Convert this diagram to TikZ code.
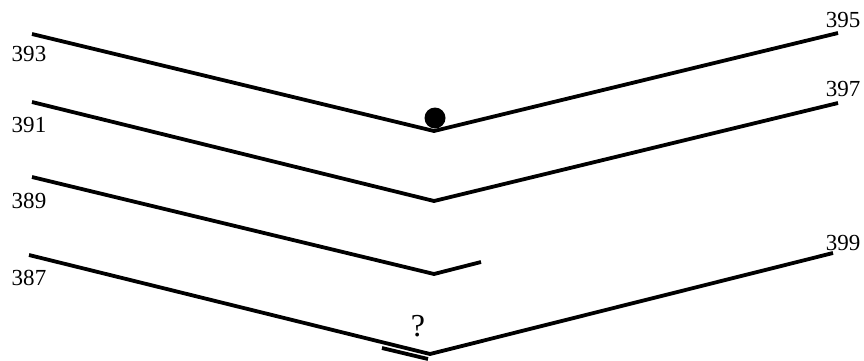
\documentclass[tikz,border=0pt]{standalone}
\usepackage{fontspec}
\setmainfont{Liberation Serif}
\tikzset{
  strand/.style={line width=3.8pt, line cap=butt, line join=miter},
  num/.style={inner sep=0pt, font=\fontsize{23}{25}\selectfont},
  query/.style={inner sep=0pt, font=\fontsize{32}{34}\selectfont},
}

\begin{document}
\begin{tikzpicture}[x=1pt, y=-1pt]
  \useasboundingbox (0,0) rectangle (864,360);
  % end points and bends
  \coordinate (a393) at (32,34);
  \coordinate (b393) at (434,131);
  \coordinate (a395) at (838,33);
  \coordinate (a391) at (32,102);
  \coordinate (b391) at (434,201);
  \coordinate (a397) at (838,103);
  \coordinate (a389) at (32,177);
  \coordinate (b389) at (434,274);
  \coordinate (c389) at (481,262);
  \coordinate (a387) at (29,255);
  \coordinate (b387) at (430,354);
  \coordinate (a399) at (833,253);
  \coordinate (s1) at (382,348);
  \coordinate (s2) at (428,359);

  \draw[strand] (a393) -- (b393) -- (a395);
  \draw[strand] (a391) -- (b391) -- (a397);
  \draw[strand] (a389) -- (b389) -- (c389);
  \draw[strand] (a387) -- (b387) -- (a399);
  \draw[strand] (s1) -- (s2);
  \fill (435,118) circle (10.5pt);

  \node[num] (l393) at (29,54)  {393};
  \node[num] (l391) at (29,125) {391};
  \node[num] (l389) at (29,201) {389};
  \node[num] (l387) at (29,278) {387};
  \node[num] (l395) at (843,20)  {395};
  \node[num] (l397) at (843,89)  {397};
  \node[num] (l399) at (843,243) {399};
  \node[query] (q)  at (418,326) {?};
\end{tikzpicture}
\end{document}
